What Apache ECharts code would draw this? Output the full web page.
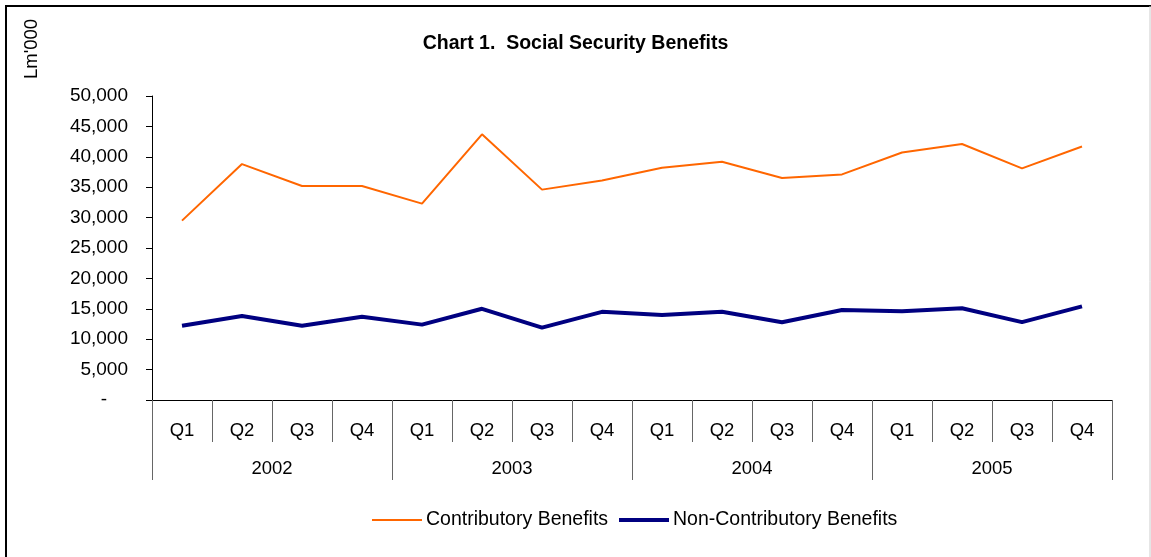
<!DOCTYPE html>
<html>
<head>
<meta charset="utf-8">
<title>Chart 1. Social Security Benefits</title>
<script src="https://cdn.jsdelivr.net/npm/echarts@6/dist/echarts.min.js"></script>
<style>
  html, body { margin: 0; padding: 0; background: #fff; }
  #chart { width: 1151px; height: 557px; }
</style>
</head>
<body>
<div id="chart"></div>
<script>
// data (Lm'000)
var quarters = ['Q1', 'Q2', 'Q3', 'Q4', 'Q1', 'Q2', 'Q3', 'Q4',
                'Q1', 'Q2', 'Q3', 'Q4', 'Q1', 'Q2', 'Q3', 'Q4'];
var years = ['2002', '2003', '2004', '2005'];
var contributory = [29500, 38800, 35200, 35200, 32300, 43700, 34600, 36100,
                    38200, 39200, 36500, 37100, 40700, 42100, 38100, 41700];
var nonContributory = [12200, 13800, 12200, 13700, 12400, 15000, 11900, 14500,
                       14000, 14500, 12800, 14800, 14600, 15100, 12800, 15400];
var yTicks = { min: 0, max: 50000, step: 5000 };

var font = 'Liberation Sans, Arial, sans-serif';
var fs = 18.5;

var chart = echarts.init(document.getElementById('chart'));

var option = {
    backgroundColor: '#fff',
    animation: false,
    title: {
        text: 'Chart 1.  Social Security Benefits',
        left: 'center',
        top: 29,
        textStyle: { fontFamily: font, fontSize: 19.5, fontWeight: 'bold', color: '#000' }
    },
    // two legends so each icon can have its own line thickness
    legend: [
        {
            left: 367,
            top: 505,
            itemWidth: 50,
            itemHeight: 2,
            icon: 'rect',
            textStyle: { fontFamily: font, fontSize: 19.5, color: '#000', padding: [0, 0, 0, -1] },
            data: ['Contributory Benefits']
        },
        {
            left: 614,
            top: 505,
            itemWidth: 50,
            itemHeight: 4,
            icon: 'rect',
            textStyle: { fontFamily: font, fontSize: 19.5, color: '#000', padding: [0, 0, 0, -1] },
            data: ['Non-Contributory Benefits']
        }
    ],
    grid: { left: 152, right: 39, top: 96, bottom: 157, containLabel: false },
    xAxis: [
        {
            type: 'category',
            data: quarters,
            boundaryGap: true,
            axisLine: { show: true, lineStyle: { color: '#000', width: 1 } },
            axisTick: { show: true, interval: 0, length: 42, lineStyle: { color: '#666' } },
            axisLabel: { interval: 0, margin: 21, fontFamily: font, fontSize: fs, color: '#000' },
            splitLine: { show: false }
        },
        {
            // second row of the axis: years
            type: 'category',
            data: years,
            position: 'bottom',
            boundaryGap: true,
            axisLine: { show: false },
            axisTick: { show: true, interval: 0, length: 80, lineStyle: { color: '#666' } },
            axisLabel: { interval: 0, margin: 59, fontFamily: font, fontSize: fs, color: '#000' },
            splitLine: { show: false }
        }
    ],
    yAxis: {
        type: 'value',
        min: yTicks.min,
        max: yTicks.max,
        interval: yTicks.step,
        axisLine: { show: true, lineStyle: { color: '#000' } },
        axisTick: { show: true, length: 6, lineStyle: { color: '#000' } },
        splitLine: { show: false },
        axisLabel: {
            margin: 24,
            fontFamily: font,
            fontSize: 19,
            color: '#000',
            formatter: function (v) {
                if (v === 0) return '{d|-}';
                return echarts.format.addCommas(v);
            },
            rich: { d: { fontFamily: font, fontSize: 19, color: '#000', padding: [0, 21, 0, 0] } }
        }
    },
    series: [
        {
            name: 'Contributory Benefits',
            type: 'line',
            xAxisIndex: 0,
            data: contributory,
            symbol: 'none',
            itemStyle: { color: '#FF6600' },
            lineStyle: { color: '#FF6600', width: 2 }
        },
        {
            name: 'Non-Contributory Benefits',
            type: 'line',
            xAxisIndex: 0,
            data: nonContributory,
            symbol: 'none',
            itemStyle: { color: '#000080' },
            lineStyle: { color: '#000080', width: 4 }
        }
    ],
    graphic: [
        // unit label, rotated, top left
        {
            type: 'text',
            x: 32,
            y: 49,
            rotation: Math.PI / 2,
            style: {
                text: "Lm'000",
                font: fs + 'px ' + font,
                fill: '#000',
                textAlign: 'center',
                textVerticalAlign: 'middle'
            }
        },
        // outer frame (bottom is cut off in the original)
        { type: 'line', shape: { x1: 6, y1: 6, x2: 6, y2: 557 }, style: { stroke: '#000', lineWidth: 2 } },
        { type: 'line', shape: { x1: 5, y1: 6, x2: 1151, y2: 6 }, style: { stroke: '#000', lineWidth: 2 } },
        { type: 'line', shape: { x1: 1150, y1: 6, x2: 1150, y2: 557 }, style: { stroke: '#ccc', lineWidth: 1 } }
    ]
};

chart.setOption(option);

window.onresize = function () {
    chart.resize();
};
</script>
</body>
</html>
